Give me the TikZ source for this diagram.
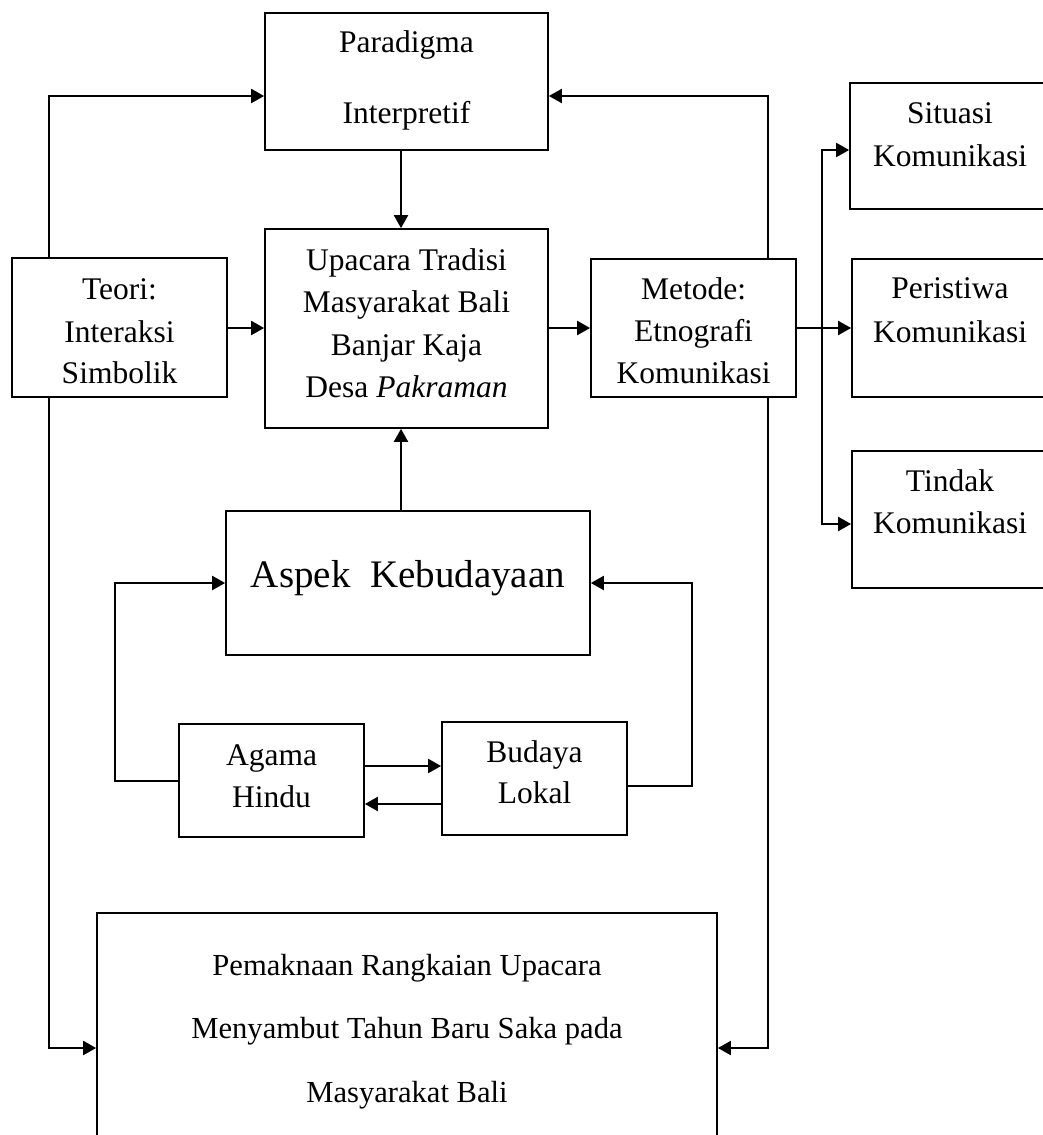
\documentclass[tikz,border=0pt]{standalone}
\usepackage{fontspec}
\setmainfont{Liberation Serif}
\usetikzlibrary{arrows.meta,fit,calc}
\begin{document}
\begin{tikzpicture}[x=0.5pt,y=-0.5pt,
  box/.style={draw, line width=0.85pt, fill=white, inner sep=0pt},
  conn/.style={line width=1pt},
  arr/.style={conn, -{Triangle[length=6.5pt,width=7pt]}},
  txt/.style={anchor=base, inner sep=0pt, font=\fontsize{15.75}{19}\selectfont},
  bigtxt/.style={anchor=base, inner sep=0pt, font=\fontsize{19.5}{23}\selectfont},
  smtxt/.style={anchor=base, inner sep=0pt, font=\fontsize{15.3}{19}\selectfont}]
\useasboundingbox (0,0) rectangle (1043,1135);
\clip (0,0) rectangle (1043,1135);

% boxes
\node[box, fit={(265,13) (548,150)}] (para) {};
\node[box, fit={(265,229) (548,428)}] (upa) {};
\node[box, fit={(12,258) (227,397)}] (teori) {};
\node[box, fit={(591,259) (796,397)}] (metode) {};
\node[box, fit={(850,83) (1052,209)}] (situasi) {};
\node[box, fit={(852,259) (1052,397)}] (peristiwa) {};
\node[box, fit={(852,451) (1052,588)}] (tindak) {};
\node[box, fit={(226,511) (590,655)}] (aspek) {};
\node[box, fit={(179,724) (364,837)}] (agama) {};
\node[box, fit={(442,722) (627,835)}] (budaya) {};
\node[box, fit={(97,913) (717,1145)}] (pem) {};

% texts
\node[txt] (t1) at (406.5,53) {Paradigma};
\node[txt] (t2) at (406.5,123) {Interpretif};
\node[txt] (t3) at (406.5,270) {Upacara Tradisi};
\node[txt] (t4) at (406.5,312) {Masyarakat Bali};
\node[txt] (t5) at (406.5,355) {Banjar Kaja};
\node[txt] (t6) at (406.5,397) {Desa \textit{Pakraman}};
\node[txt] (t7) at (119.5,299) {Teori:};
\node[txt] (t8) at (119.5,342) {Interaksi};
\node[txt] (t9) at (119.5,383) {Simbolik};
\node[txt] (t10) at (693.5,299) {Metode:};
\node[txt] (t11) at (693.5,341) {Etnografi};
\node[txt] (t12) at (693.5,383) {Komunikasi};
\node[txt] (t13) at (950,123) {Situasi};
\node[txt] (t14) at (950,166) {Komunikasi};
\node[txt] (t15) at (950,298) {Peristiwa};
\node[txt] (t16) at (950,342) {Komunikasi};
\node[txt] (t17) at (950,491) {Tindak};
\node[txt] (t18) at (950,533) {Komunikasi};
\node[bigtxt] (t19) at (408,587) {Aspek\ \ Kebudayaan};
\node[txt] (t20) at (271.5,765) {Agama};
\node[txt] (t21) at (271.5,807) {Hindu};
\node[txt] (t22) at (534.5,762) {Budaya};
\node[txt] (t23) at (534.5,803) {Lokal};
\node[smtxt] (t24) at (407,975) {Pemaknaan Rangkaian Upacara};
\node[smtxt] (t25) at (407,1038) {Menyambut Tahun Baru Saka pada};
\node[smtxt] (t26) at (407,1102) {Masyarakat Bali};

% helper coordinates
\coordinate (L) at (49,96);
\coordinate (Lb) at (49,1048);
\coordinate (R) at (768,96);
\coordinate (Rb) at (768,1048);
\coordinate (C) at (401,0);
\coordinate (M) at (0,328);
\coordinate (B1) at (822,150);
\coordinate (B2) at (822,524);
\coordinate (A1) at (0,766);
\coordinate (A2) at (0,804);
\coordinate (LL) at (115,781);
\coordinate (LT) at (115,583);
\coordinate (RL) at (692,786);
\coordinate (RT) at (692,583);

% connectors
\draw[arr] (L |- teori.north) -- (L) -- (L -| para.west);
\draw[arr] (L |- teori.south) -- (Lb) -- (Lb -| pem.west);
\draw[arr] (R |- metode.north) -- (R) -- (R -| para.east);
\draw[arr] (R |- metode.south) -- (Rb) -- (Rb -| pem.east);
\draw[arr] (C |- para.south) -- (C |- upa.north);
\draw[arr] (C |- aspek.north) -- (C |- upa.south);
\draw[arr] (M -| teori.east) -- (M -| upa.west);
\draw[arr] (M -| upa.east) -- (M -| metode.west);
\draw[arr] (M -| metode.east) -- (M -| peristiwa.west);
\draw[arr] (B1 |- M) -- (B1) -- (B1 -| situasi.west);
\draw[arr] (B1 |- M) -- (B2) -- (B2 -| tindak.west);
\draw[arr] (A1 -| agama.east) -- (A1 -| budaya.west);
\draw[arr] (A2 -| budaya.west) -- (A2 -| agama.east);
\draw[arr] (LL -| agama.west) -- (LL) -- (LT) -- (LT -| aspek.west);
\draw[arr] (RL -| budaya.east) -- (RL) -- (RT) -- (RT -| aspek.east);
\end{tikzpicture}
\end{document}
